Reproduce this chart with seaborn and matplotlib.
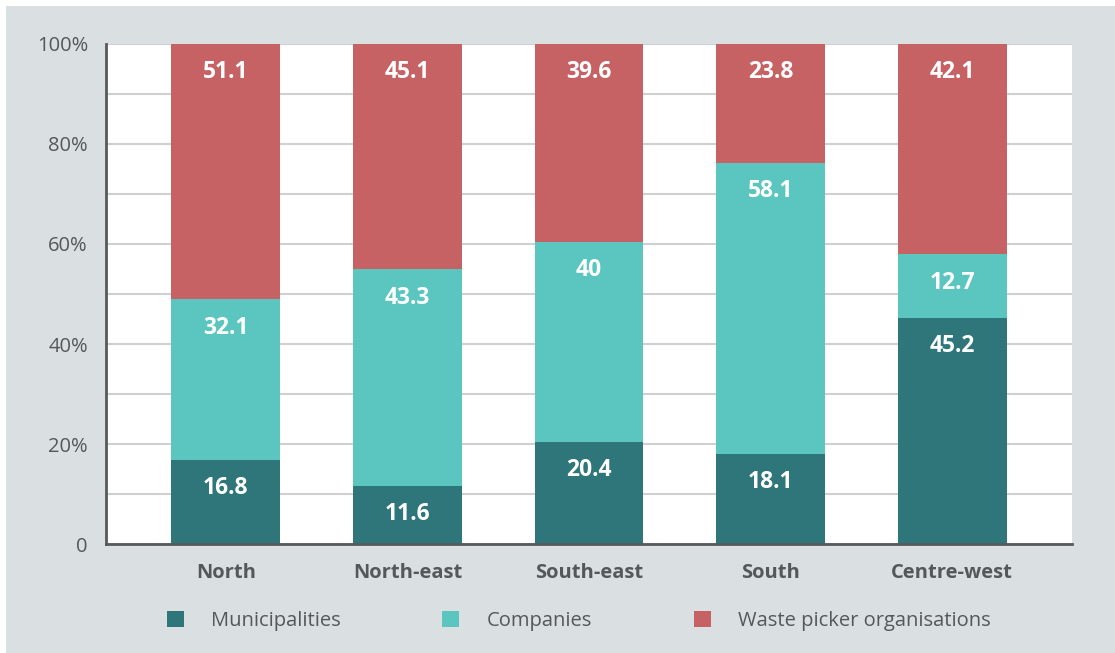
import numpy as np
import pandas as pd
import matplotlib
matplotlib.use("Agg")
import matplotlib.pyplot as plt
import seaborn as sns
from matplotlib.patches import Patch

regions = ["North", "North-east", "South-east", "South", "Centre-west"]
municipalities = [16.8, 11.6, 20.4, 18.1, 45.2]
companies = [32.1, 43.3, 40, 58.1, 12.7]
waste_pickers = [51.1, 45.1, 39.6, 23.8, 42.1]
series_names = ["Municipalities", "Companies", "Waste picker organisations"]
y_ticks = [0, 20, 40, 60, 80, 100]
y_ticklabels = ["0", "20%", "40%", "60%", "80%", "100%"]

colors = ["#2e7679", "#5bc5bf", "#c66164"]
bg = "#dadfe1"
text_grey = "#555859"

sns.set_theme(style="white")
plt.rcParams["font.family"] = ["Open Sans", "DejaVu Sans"]

df = pd.DataFrame({
    "region": regions,
    "Municipalities": municipalities,
    "Companies": companies,
    "Waste picker organisations": waste_pickers,
})
# cumulative tops for stacking
df["top_m"] = df["Municipalities"]
df["top_c"] = df["top_m"] + df["Companies"]
df["top_w"] = df["top_c"] + df["Waste picker organisations"]

fig = plt.figure(figsize=(11.15, 6.53), dpi=100)
fig.patch.set_facecolor("white")
# grey panel
fig.patches.append(plt.Rectangle((6 / 1115, 0), 1 - 6 / 1115, 1 - 6 / 653,
                                 transform=fig.transFigure, facecolor=bg,
                                 edgecolor="none", zorder=-10))
ax = fig.add_axes([106 / 1115, 109 / 653, 966 / 1115, 500 / 653])
ax.set_facecolor("white")

# draw from tallest layer down so lower layers sit on top
for col, c in zip(["top_w", "top_c", "top_m"], colors[::-1]):
    sns.barplot(data=df, x="region", y=col, color=c, width=0.6,
                saturation=1, ax=ax, zorder=3, linewidth=0)

# value labels near the top of each segment
layers = [("Municipalities", "top_m"), ("Companies", "top_c"),
          ("Waste picker organisations", "top_w")]
for i, row in df.iterrows():
    for name, top in layers:
        v = row[name]
        label = f"{v:g}"
        ax.text(i, row[top] - 5.7, label, ha="center", va="center",
                color="white", fontsize=16.5, fontweight="bold", zorder=5)

ax.set_xlim(-0.66, 4.66)
ax.set_ylim(0, 100)
ax.set_yticks(y_ticks)
ax.set_yticklabels(y_ticklabels, fontsize=14.5, color=text_grey)
ax.set_yticks(np.arange(10, 100, 20), minor=True)
ax.yaxis.grid(True, which="both", color="#cfd0d1", linewidth=1.5, zorder=0)
ax.set_axisbelow(True)
ax.tick_params(axis="y", which="both", length=0, pad=13)
ax.tick_params(axis="x", length=0, pad=14)
for lbl in ax.get_xticklabels():
    lbl.set_fontsize(14.5)
    lbl.set_fontweight("bold")
    lbl.set_color(text_grey)
ax.set_xlabel("")
ax.set_ylabel("")

for s in ["top", "right"]:
    ax.spines[s].set_visible(False)
for s in ["left", "bottom"]:
    ax.spines[s].set_color("#58595b")
    ax.spines[s].set_linewidth(2)
    ax.spines[s].set_zorder(6)

handles = [Patch(facecolor=c, edgecolor="none") for c in colors]
fig.legend(handles, series_names, loc="center", bbox_to_anchor=(0.519, 0.049),
           ncol=3, frameon=False, fontsize=14.5, handlelength=0.85,
           handleheight=0.85, handletextpad=1.35, columnspacing=5.05,
           labelcolor=text_grey)

fig.savefig("out.png", dpi=100, facecolor=fig.get_facecolor())
